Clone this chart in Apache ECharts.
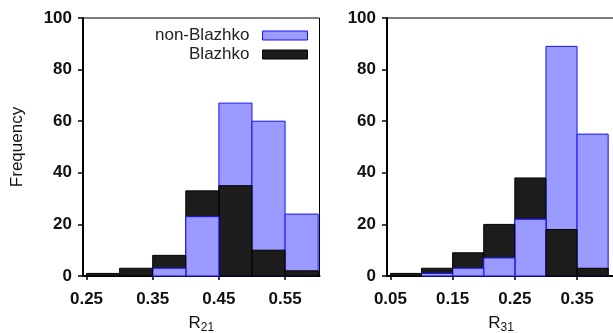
<!DOCTYPE html>
<html>
<head>
<meta charset="utf-8">
<script src="https://cdn.jsdelivr.net/npm/echarts@6/dist/echarts.min.js"></script>
<style>
  html, body { margin: 0; padding: 0; background: #fff; }
  #chart { width: 613px; height: 333px; }
</style>
</head>
<body>
<div id="chart"></div>
<script>
// Histogram bin edges and counts for the R21 panel
const r21Edges = [0.25, 0.30, 0.35, 0.40, 0.45, 0.50, 0.55, 0.60];
const r21NonBlazhko = [0, 0, 3, 23, 67, 60, 24];
const r21Blazhko = [1, 3, 8, 33, 35, 10, 2];

// Histogram bin edges and counts for the R31 panel
const r31Edges = [0.05, 0.10, 0.15, 0.20, 0.25, 0.30, 0.35, 0.40];
const r31NonBlazhko = [0, 1, 3, 7, 22, 89, 55];
const r31Blazhko = [1, 3, 9, 20, 38, 18, 3];

// Tick values
const r21Ticks = [0.25, 0.35, 0.45, 0.55];
const r31Ticks = [0.05, 0.15, 0.25, 0.35];
const freqTicks = [0, 20, 40, 60, 80, 100];

const seriesNames = ['non-Blazhko', 'Blazhko'];

const FONT = 'Liberation Sans, Arial, Helvetica, sans-serif';
const blueFill = '#9a9aff';
const blueEdge = '#1414ff';
const blackFill = '#1c1c1c';
const blackEdge = '#000000';

// Turn edges + counts into [x0, x1, count] rows
function bins(edges, counts) {
  return counts.map((c, i) => [edges[i], edges[i + 1], c]);
}

// Each bin is a rect spanning [x0, x1] from 0 up to the count.
// Shorter bars get a higher z2 so they sit on top of the taller ones.
function makeRender(fill, edge) {
  return function (params, api) {
    const count = api.value(2);
    if (!count) return null;
    const p0 = api.coord([api.value(0), count]);
    const p1 = api.coord([api.value(1), 0]);
    return {
      type: 'rect',
      shape: { x: p0[0], y: p0[1], width: p1[0] - p0[0], height: p1[1] - p0[1] },
      style: { fill: fill, stroke: edge, lineWidth: 1 },
      z2: 1000 - count
    };
  };
}

function histSeries(name, idx, rows, fill, edge) {
  return {
    type: 'custom',
    name: name,
    xAxisIndex: idx,
    yAxisIndex: idx,
    renderItem: makeRender(fill, edge),
    encode: { x: [0, 1], y: 2 },
    itemStyle: { color: fill, borderColor: edge },
    data: rows,
    silent: true,
    animation: false
  };
}

function xAxisFor(idx, min, max, ticks, sub) {
  return {
    type: 'value',
    gridIndex: idx,
    min: min,
    max: max,
    name: '{r|R}{s|' + sub + '}',
    nameLocation: 'middle',
    nameGap: 37,
    nameTextStyle: {
      rich: {
        r: { fontFamily: FONT, fontSize: 17, color: '#111' },
        s: { fontFamily: FONT, fontSize: 12, color: '#111', padding: [9, 0, 0, 0] }
      }
    },
    axisLine: { show: true, onZero: false, lineStyle: { color: '#000', width: 2 } },
    axisTick: { show: true, inside: false, length: 4, customValues: ticks, lineStyle: { color: '#000', width: 1.5 } },
    axisLabel: {
      customValues: ticks,
      formatter: v => v.toFixed(2),
      fontFamily: FONT, fontSize: 17, fontWeight: 'bold', color: '#111', margin: 15
    },
    splitLine: { show: false }
  };
}

function yAxisFor(idx, withName) {
  return {
    type: 'value',
    gridIndex: idx,
    min: 0,
    max: 100,
    interval: 20,
    name: withName ? 'Frequency' : '',
    nameLocation: 'middle',
    nameGap: 57,
    nameTextStyle: { fontFamily: FONT, fontSize: 17, color: '#111' },
    axisLine: { show: true, lineStyle: { color: '#000', width: 2 } },
    axisTick: { show: true, inside: false, length: 5, customValues: freqTicks, lineStyle: { color: '#000', width: 1.5 } },
    axisLabel: {
      customValues: freqTicks,
      fontFamily: FONT, fontSize: 17, fontWeight: 'bold', color: '#111', margin: 11
    },
    splitLine: { show: false }
  };
}

const chart = echarts.init(document.getElementById('chart'), null, { renderer: 'canvas' });

const gridBase = {
  top: 18, height: 258, show: true, borderColor: '#000', borderWidth: 1,
  backgroundColor: 'transparent', containLabel: false, outerBoundsMode: 'none'
};

chart.setOption({
  animation: false,
  backgroundColor: '#fff',
  grid: [
    Object.assign({ left: 83, width: 236.5 }, gridBase),
    Object.assign({ left: 387, width: 228 }, gridBase)
  ],
  xAxis: [
    xAxisFor(0, 0.2447, 0.602, r21Ticks, '21'),
    xAxisFor(1, 0.0445, 0.411, r31Ticks, '31')
  ],
  yAxis: [yAxisFor(0, true), yAxisFor(1, false)],
  legend: {
    show: true,
    orient: 'vertical',
    align: 'right',
    right: 300,
    top: 22,
    itemWidth: 45,
    itemHeight: 9,
    itemGap: 2,
    textStyle: { fontFamily: FONT, fontSize: 17, color: '#222', padding: [0, 8, 0, 0] },
    data: [
      { name: seriesNames[0], icon: 'rect', itemStyle: { color: blueFill, borderColor: blueEdge, borderWidth: 1 } },
      { name: seriesNames[1], icon: 'rect', itemStyle: { color: blackFill, borderColor: blackEdge, borderWidth: 1 } }
    ],
    selectedMode: false
  },
  series: [
    histSeries(seriesNames[0], 0, bins(r21Edges, r21NonBlazhko), blueFill, blueEdge),
    histSeries(seriesNames[1], 0, bins(r21Edges, r21Blazhko), blackFill, blackEdge),
    histSeries(seriesNames[0], 1, bins(r31Edges, r31NonBlazhko), blueFill, blueEdge),
    histSeries(seriesNames[1], 1, bins(r31Edges, r31Blazhko), blackFill, blackEdge)
  ]
});
</script>
</body>
</html>
